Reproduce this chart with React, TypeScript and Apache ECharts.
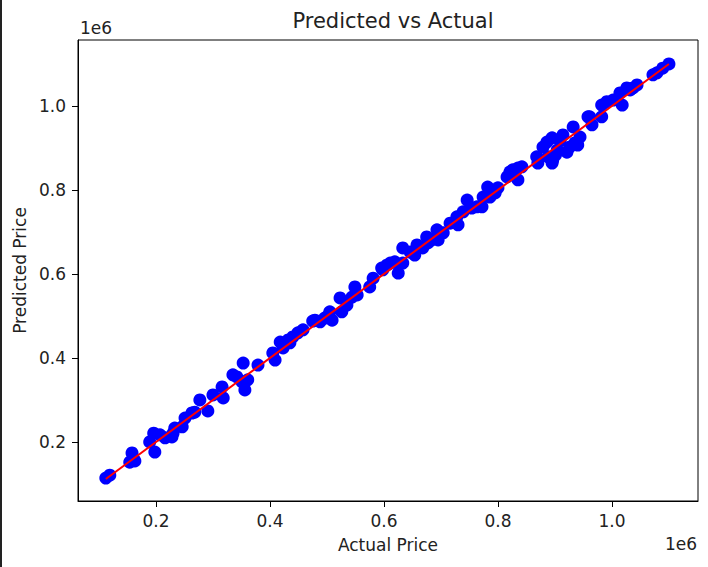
import React, { useEffect, useRef } from 'react'
import * as echarts from 'echarts'

// values, in thousands
const actualPrice = [
  112, 119, 158, 160, 154, 163, 189, 196, 198, 207, 216, 228, 230, 233, 246, 251, 263, 268, 277, 291,
  300, 316, 318, 335, 342, 353, 356, 351, 361, 379,
  409, 405, 418, 423, 432, 435, 440, 449, 458, 475, 479, 488, 496, 500, 505, 509, 523, 526, 535, 544,
  549, 553, 575, 581, 596, 598, 605, 611, 619, 625, 633, 633, 646, 654, 658, 668, 675, 677, 695,
  684, 693, 704, 716, 728, 730, 739, 746, 754, 763, 772, 774, 782, 786, 795, 800, 816, 821, 826, 835,
  835, 842, 868, 870,
  879, 886, 895, 896, 888, 895, 901, 904, 909, 914, 921, 926, 932, 935, 940, 944, 958, 961, 965, 982,
  982, 991, 1002, 1014, 1018, 1026, 1032, 1037, 1044, 1072, 1079, 1089, 1100,
]
const predictedPrice = [
  114, 121, 174, 162, 152, 155, 200, 221, 176, 217, 210, 212, 221, 233, 236, 257, 269, 271, 300, 274,
  312, 331, 305, 360, 355, 388, 324, 343, 348, 383,
  395, 412, 438, 424, 443, 436, 450, 460, 467, 488, 490, 486, 495, 498, 510, 490, 543, 510, 526, 545,
  569, 550, 569, 590, 614, 610, 621, 626, 629, 602, 626, 662, 652, 645, 669, 662, 688, 674, 681,
  681, 705, 698, 721, 736, 717, 748, 776, 757, 760, 760, 783, 807, 783, 793, 805, 831, 843, 848, 852,
  824, 855, 879, 864,
  902, 914, 924, 871, 879, 864, 883, 895, 917, 931, 890, 902, 950, 912, 907, 926, 974, 974, 955, 1002,
  974, 1010, 1014, 1031, 1002, 1043, 1038, 1043, 1050, 1074, 1079, 1090, 1100,
]
const tickValues = [0.2, 0.4, 0.6, 0.8, 1.0]

const FONT = '"DejaVu Sans", sans-serif'

export default function App() {
  const chartRef = useRef<HTMLDivElement>(null)

  useEffect(() => {
    document.body.style.margin = '0'
    if (!chartRef.current) return
    const chart = echarts.init(chartRef.current, undefined, { renderer: 'svg' })

    const points = actualPrice.map((a, i) => [a * 1000, predictedPrice[i] * 1000])
    const lo = Math.min(...actualPrice) * 1000
    const hi = Math.max(...actualPrice) * 1000
    const ticks = tickValues.map((v) => v * 1e6)

    const axisCommon = {
      type: 'value' as const,
      splitLine: { show: false },
      axisLine: { show: true, onZero: false, lineStyle: { color: '#000', width: 1 } },
      axisTick: { show: true, length: 6, customValues: ticks, lineStyle: { color: '#000' } },
      axisLabel: {
        customValues: ticks,
        formatter: (v: number) => (v / 1e6).toFixed(1),
        color: '#222',
        fontFamily: FONT,
        fontSize: 17,
      },
      nameLocation: 'middle' as const,
      nameTextStyle: { color: '#222', fontFamily: FONT, fontSize: 17 },
    }

    chart.setOption({
      animation: false,
      backgroundColor: '#fff',
      title: {
        text: 'Predicted vs Actual',
        left: 388,
        textAlign: 'center',
        top: 5,
        textStyle: { color: '#222', fontFamily: FONT, fontSize: 21, fontWeight: 'normal' },
      },
      grid: {
        left: 78,
        right: 10,
        top: 40,
        bottom: 66,
        show: true,
        borderColor: '#000',
        borderWidth: 1,
        outerBoundsMode: 'none',
      },
      xAxis: {
        ...axisCommon,
        min: 63200,
        max: 1151000,
        name: 'Actual Price',
        nameGap: 35,
        axisLabel: { ...axisCommon.axisLabel, margin: 11 },
      },
      yAxis: {
        ...axisCommon,
        min: 59500,
        max: 1157000,
        name: 'Predicted Price',
        nameGap: 50,
        axisLabel: { ...axisCommon.axisLabel, margin: 12 },
      },
      graphic: [
        {
          type: 'line',
          shape: { x1: 1, y1: 0, x2: 1, y2: 567 },
          style: { stroke: '#222', lineWidth: 2 },
        },
        {
          type: 'text',
          left: 80,
          top: 19,
          style: { text: '1e6', fill: '#222', font: `17px ${FONT}` },
        },
        {
          type: 'text',
          right: 11,
          top: 535,
          style: { text: '1e6', fill: '#222', font: `17px ${FONT}` },
        },
      ],
      series: [
        {
          type: 'scatter',
          data: points,
          symbolSize: 13,
          itemStyle: { color: '#0000ff', opacity: 1 },
          z: 2,
        },
        {
          type: 'line',
          data: [
            [lo, lo],
            [hi, hi],
          ],
          symbol: 'none',
          lineStyle: { color: '#ff0000', width: 2 },
          z: 3,
        },
      ],
    })

    return () => chart.dispose()
  }, [])

  return <div ref={chartRef} style={{ width: 708, height: 567 }} />
}
